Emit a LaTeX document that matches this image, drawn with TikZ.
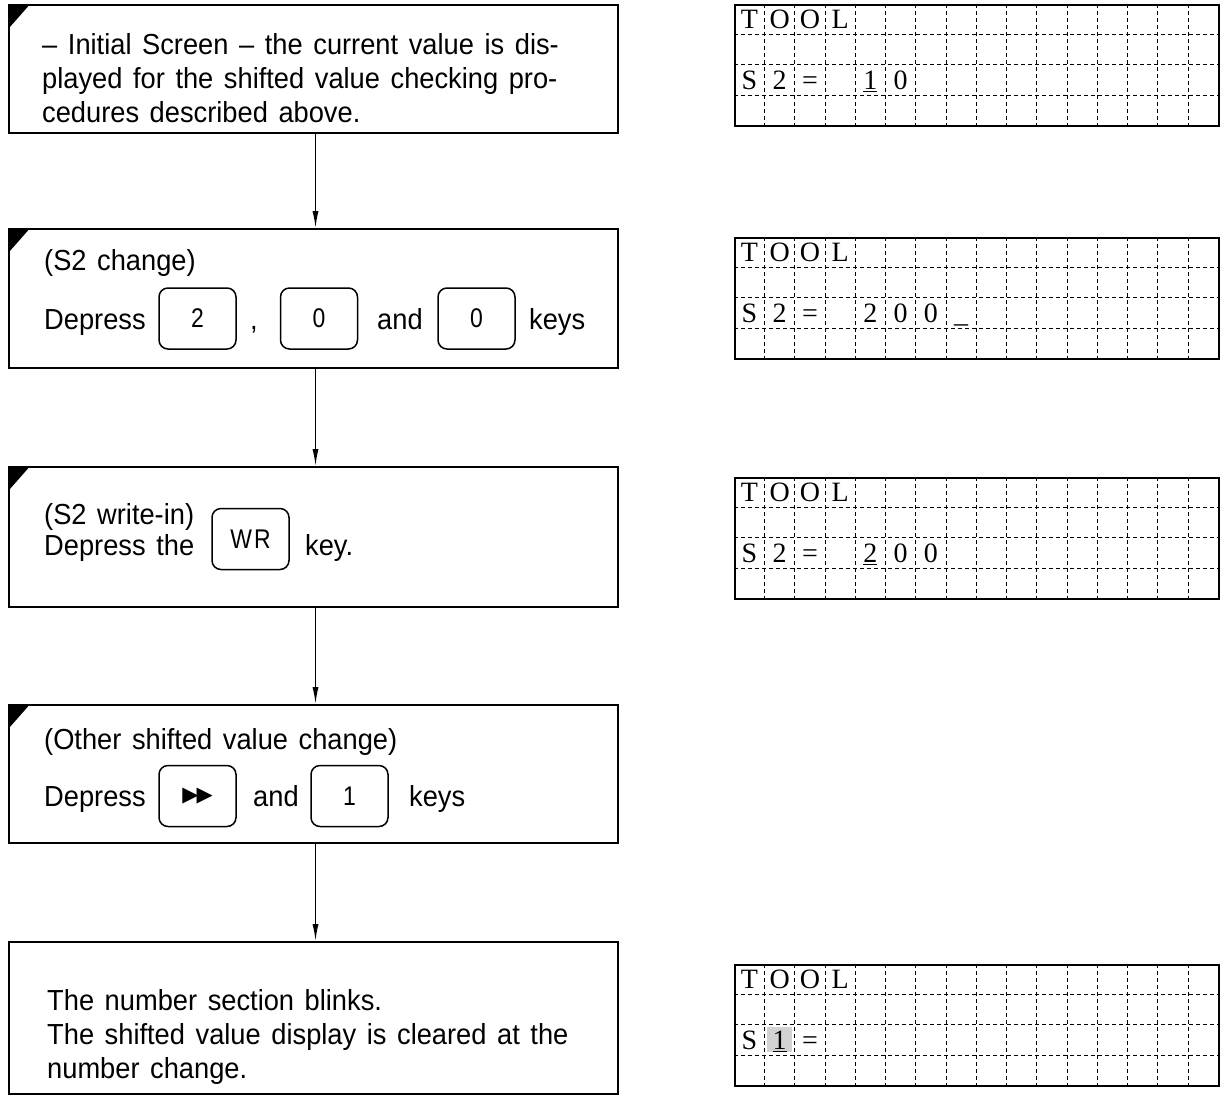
\documentclass[tikz,border=0pt]{standalone}
\usepackage{fontspec}
\setmainfont{Liberation Sans}[FakeStretch=0.94,WordSpace=1.4]
\newfontfamily\lcdfont{Liberation Serif}
\newfontfamily\keyfont{Liberation Sans}[FakeStretch=0.85]
\newfontfamily\symfont{DejaVu Sans}
\usetikzlibrary{arrows.meta,positioning}

\tikzset{
  stepbox/.style={draw=black,line width=1.8pt,minimum width=609pt,inner sep=0pt},
  key/.style={draw=black,line width=1.5pt,rounded corners=9pt,minimum width=77pt,
    minimum height=61pt,inner sep=0pt,font=\keyfont\fontsize{27}{27}\selectfont},
  txt/.style={anchor=base west,inner sep=0pt,font=\fontsize{29}{34}\selectfont},
  lcd/.style={draw=black,line width=1.3pt,minimum width=484pt,minimum height=121pt,inner sep=0pt},
  cell/.style={line width=1pt,dash pattern=on 4pt off 3pt},
  lcdchar/.style={anchor=base,inner sep=0pt,font=\lcdfont\fontsize{28}{28}\selectfont},
  flow/.style={-{Latex[length=17pt,width=6pt]},line width=1.4pt},
}
% black tab in the upper left corner of a step
\newcommand{\tabmark}[1]{\fill (#1.north west) -- ++(22,0) -- ++(-22,25) -- cycle;}
% dotted cell grid of a display, 16 x 4
\newcommand{\lcdgrid}[1]{%
  \foreach \i in {1,...,15}
    \draw[cell] ([xshift=\i*30.25pt]#1.north west) -- ([xshift=\i*30.25pt]#1.south west);
  \foreach \j in {1,2,3}
    \draw[cell] ([yshift=-\j*30.25pt]#1.north west) -- ([yshift=-\j*30.25pt]#1.north east);}
% one row of characters, one per cell
\newcommand{\lcdrow}[3]{%
  \foreach \c [count=\i from 0] in {#3}
    \node (#1-#2-\i) [lcdchar] at ([xshift=\i*30.25pt+15.1pt,yshift=-#2*30.25pt-24.5pt]#1.north west) {\c};}

\begin{document}
\begin{tikzpicture}[x=1pt,y=-1pt]
\useasboundingbox (0,0) rectangle (1221,1096);
% steps
\node (b1) [stepbox,minimum height=128pt] at (313.5,69) {};
\node (b2) [stepbox,minimum height=139pt] at (313.5,298.5) {};
\node (b3) [stepbox,minimum height=140pt] at (313.5,537) {};
\node (b4) [stepbox,minimum height=138pt] at (313.5,774) {};
\node (b5) [stepbox,minimum height=152pt] at (313.5,1018) {};
\tabmark{b1}
\tabmark{b2}
\tabmark{b3}
\tabmark{b4}
%
\node (t1a) [txt] at (42,54) {– Initial Screen – the current value is dis-};
\node (t1b) [txt] at (42,88) {played for the shifted value checking pro-};
\node (t1c) [txt] at (42,122) {cedures described above.};
%
\node (t2a) [txt] at (44,270) {(S2 change)};
\node (t2b) [txt] at (44,329) {Depress};
\node (k21) [key] at (197.5,318.5) {2};
\node (t2c) [txt] at (250,329) {,};
\node (k22) [key] at (319,318.5) {0};
\node (t2d) [txt] at (377,329) {and};
\node (k23) [key] at (476.5,318.5) {0};
\node (t2e) [txt] at (529,329) {keys};
%
\node (t3a) [txt] at (44,524) {(S2 write-in)};
\node (t3b) [txt] at (44,555) {Depress the};
\node (k31) [key] at (250.5,539) {W\kern2pt R};
\node (t3c) [txt] at (305,555) {key.};
%
\node (t4a) [txt] at (44,749.5) {(Other shifted value change)};
\node (t4b) [txt] at (44,806.5) {Depress};
\node (k41) [key] at (197.5,796) {\symfont\fontsize{21}{21}\selectfont ▶\kern-2pt▶};
\node (t4c) [txt] at (253,806.5) {and};
\node (k42) [key] at (349.5,796) {1};
\node (t4d) [txt] at (409,806.5) {keys};
%
\node (t5a) [txt] at (47,1010.5) {The number section blinks.};
\node (t5b) [txt] at (47,1044.5) {The shifted value display is cleared at the};
\node (t5c) [txt] at (47,1078.5) {number change.};
%
\draw[flow] ([xshift=2pt]b1.south) -- ([xshift=2pt]b2.north);
\draw[flow] ([xshift=2pt]b2.south) -- ([xshift=2pt]b3.north);
\draw[flow] ([xshift=2pt]b3.south) -- ([xshift=2pt]b4.north);
\draw[flow] ([xshift=2pt]b4.south) -- ([xshift=2pt]b5.north);
% displays
\node (d1) [lcd] at (977,65.5) {};
\node (d2) [lcd] at (977,298.5) {};
\node (d3) [lcd] at (977,538.5) {};
\node (d4) [lcd] at (977,1025.5) {};
\fill[gray!35] ([xshift=33pt,yshift=-63pt]d4.north west) rectangle ([xshift=58pt,yshift=-88pt]d4.north west);
\lcdgrid{d1}
\lcdgrid{d2}
\lcdgrid{d3}
\lcdgrid{d4}
\lcdrow{d1}{0}{T,O,O,L}
\lcdrow{d1}{2}{S,2,=,{},\underline{1},0}
\lcdrow{d2}{0}{T,O,O,L}
\lcdrow{d2}{2}{S,2,=,{},2,0,0,\_}
\lcdrow{d3}{0}{T,O,O,L}
\lcdrow{d3}{2}{S,2,=,{},\underline{2},0,0}
\lcdrow{d4}{0}{T,O,O,L}
\lcdrow{d4}{2}{S,\underline{1},=}
\end{tikzpicture}
\end{document}
